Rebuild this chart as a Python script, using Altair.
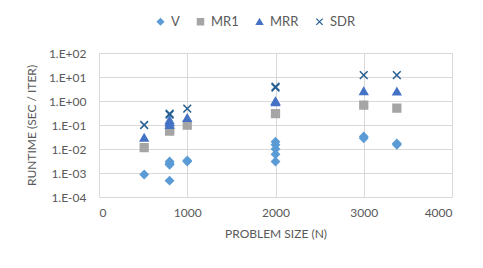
import altair as alt
import pandas as pd

series_names = ["V", "MR1", "MRR", "SDR"]
colors = ["#5B9BD5", "#A5A5A5", "#4472C4", "#255E91"]
fills = ["#5B9BD5", "#A5A5A5", "#4472C4", "transparent"]

v_x = [512, 800, 800, 800, 800, 1000, 1000, 2000, 2000, 2000, 2000, 2000, 3000, 3000, 3375, 3375]
v_y = [0.00087, 0.0025, 0.003, 0.0022, 0.00048, 0.003, 0.0033, 0.02, 0.015, 0.01, 0.006, 0.003, 0.033, 0.028, 0.017, 0.015]

mr1_x = [512, 800, 800, 1000, 2000, 3000, 3375]
mr1_y = [0.0115, 0.055, 0.065, 0.098, 0.3, 0.68, 0.5]

mrr_x = [512, 800, 800, 800, 1000, 2000, 2000, 3000, 3375]
mrr_y = [0.03, 0.1, 0.13, 0.16, 0.2, 0.9, 1.0, 2.6, 2.5]

sdr_x = [512, 800, 800, 1000, 2000, 2000, 3000, 3375]
sdr_y = [0.1, 0.27, 0.3, 0.48, 3.6, 4.0, 12.0, 12.0]

rows = []
for name, xs, ys in [("V", v_x, v_y), ("MR1", mr1_x, mr1_y), ("MRR", mrr_x, mrr_y), ("SDR", sdr_x, sdr_y)]:
    for a, b in zip(xs, ys):
        rows.append({"series": name, "n": a, "runtime": b})
df = pd.DataFrame(rows)

x_ticks = [0, 1000, 2000, 3000, 4000]
y_ticks = [1e-4, 1e-3, 1e-2, 1e-1, 1e0, 1e1, 1e2]

FONT = "Lato"
GRAY = "#595959"
shapes = ["diamond", "square", "triangle-up", "M-1,-1L1,1M1,-1L-1,1"]

label_expr = ("'1.E' + (datum.value >= 1 ? '+' : '-') + "
              "(abs(round(log(datum.value)/LN10)) < 10 ? '0' : '') + abs(round(log(datum.value)/LN10))")

leg = alt.Legend(title=None, orient="none", direction="horizontal",
                 legendX=55, legendY=-38, columnPadding=14,
                 labelOffset=4, symbolSize=40, symbolStrokeWidth=1.2)

chart = alt.Chart(df).mark_point(filled=False, size=60, strokeWidth=1.5, opacity=1).encode(
    x=alt.X("n:Q", scale=alt.Scale(domain=[0, 4000], nice=False),
            axis=alt.Axis(values=x_ticks, title="PROBLEM SIZE (N)", format="d",
                          grid=True, ticks=False, domain=False, labelPadding=10,
                          titlePadding=10)),
    y=alt.Y("runtime:Q", scale=alt.Scale(type="log", domain=[1e-4, 1e2], nice=False),
            axis=alt.Axis(values=y_ticks, title="RUNTIME (SEC / ITER)", labelExpr=label_expr,
                          grid=True, ticks=False, domain=False, labelPadding=13,
                          titlePadding=10)),
    color=alt.Color("series:N", scale=alt.Scale(domain=series_names, range=colors), legend=leg),
    fill=alt.Fill("series:N", scale=alt.Scale(domain=series_names, range=fills), legend=leg),
    shape=alt.Shape("series:N", scale=alt.Scale(domain=series_names, range=shapes), legend=leg),
).properties(
    width=353, height=144,
    autosize=alt.AutoSizeParams(type="none"),
    padding={"left": 91, "top": 45, "right": 22, "bottom": 63},
).configure_view(stroke=None).configure_axis(
    gridColor="#D9D9D9", gridWidth=1, labelFont=FONT, titleFont=FONT,
    labelFontSize=12, titleFontSize=12, labelColor=GRAY, titleColor=GRAY,
    titleFontWeight="normal"
).configure_legend(
    labelFont=FONT, labelFontSize=13, labelColor=GRAY
)

chart.save("out.html", embed_options={"renderer": "svg", "actions": False})
